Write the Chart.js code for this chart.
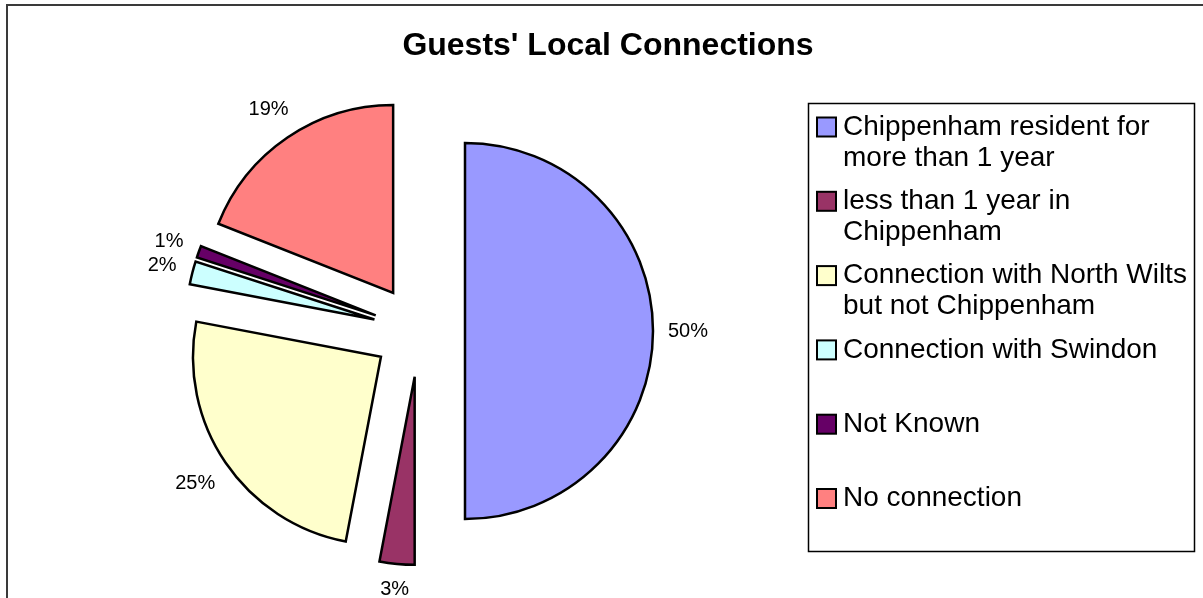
<!DOCTYPE html>
<html>
<head>
<meta charset="utf-8">
<script src="https://cdn.jsdelivr.net/npm/chart.js@4"></script>
<style>
  body { margin: 0; background: #fff; }
  #wrap { width: 1203px; height: 598px; position: relative; }
</style>
</head>
<body>
<div id="wrap"><canvas id="guestChart"></canvas></div>
<script>
// chart data
const chartTitle = "Guests' Local Connections";
const categories = [
  'Chippenham resident for more than 1 year',
  'less than 1 year in Chippenham',
  'Connection with North Wilts but not Chippenham',
  'Connection with Swindon',
  'Not Known',
  'No connection'
];
const percentValues = [50, 3, 25, 2, 1, 19];
const sliceColours = ['#9999FF', '#993366', '#FFFFCC', '#CCFFFF', '#660066', '#FF8080'];

const fontFam = "'Liberation Sans', Arial, sans-serif";
const explode = 46; // how far every slice is pulled out
const pieRadius = 188;

// pulls each slice out along its middle angle (offset option also grows radius, so do it here)
const explodePlugin = {
  id: 'explode',
  afterDatasetUpdate(chart) {
    chart.getDatasetMeta(0).data.forEach(arc => {
      const mid = (arc.startAngle + arc.endAngle) / 2;
      arc.x += Math.cos(mid) * explode;
      arc.y += Math.sin(mid) * explode;
    });
  }
};

// percent labels outside each slice, title, legend box and the outer frame
const decorPlugin = {
  id: 'decor',
  afterDatasetsDraw(chart) {
    const ctx = chart.ctx;
    ctx.save();

    // outer frame (runs off the right and bottom edge)
    ctx.strokeStyle = '#3a3a3a';
    ctx.lineWidth = 2;
    ctx.strokeRect(7, 5, 1300, 700);

    // title
    ctx.fillStyle = '#000';
    ctx.font = 'bold 32px ' + fontFam;
    ctx.textAlign = 'center';
    ctx.textBaseline = 'middle';
    ctx.fillText(chartTitle, 608, 46);

    // slice labels
    ctx.font = '20px ' + fontFam;
    chart.getDatasetMeta(0).data.forEach((arc, i) => {
      const mid = (arc.startAngle + arc.endAngle) / 2;
      const txt = percentValues[i] + '%';
      const w = ctx.measureText(txt).width;
      const cx = Math.cos(mid), sy = Math.sin(mid);
      const dist = arc.outerRadius + 15 + Math.abs(cx) * w / 2 + Math.abs(sy) * 9;
      ctx.fillText(txt, arc.x + cx * dist, arc.y + sy * dist);
    });

    // legend box
    ctx.strokeStyle = '#000';
    ctx.lineWidth = 1.5;
    ctx.strokeRect(808.5, 103.5, 386, 448);
    ctx.font = '28px ' + fontFam;
    ctx.textAlign = 'left';
    categories.forEach((cat, i) => {
      const y = 127 + i * 74.3;
      ctx.fillStyle = sliceColours[i];
      ctx.fillRect(817, y - 9.5, 19, 19);
      ctx.lineWidth = 2;
      ctx.strokeRect(817, y - 9.5, 19, 19);
      // wrap the text to the box
      const words = cat.split(' ');
      let lines = [], line = '';
      words.forEach(wd => {
        const test = line ? line + ' ' + wd : wd;
        if (ctx.measureText(test).width > 350 && line) {
          lines.push(line);
          line = wd;
        } else {
          line = test;
        }
      });
      lines.push(line);
      ctx.fillStyle = '#000';
      lines.forEach((ln, j) => ctx.fillText(ln, 843, y + j * 31));
    });

    ctx.restore();
  }
};

new Chart(document.getElementById('guestChart'), {
  type: 'pie',
  data: {
    labels: categories,
    datasets: [{
      data: percentValues,
      backgroundColor: sliceColours,
      borderColor: '#000',
      borderWidth: 2.5,
      borderJoinStyle: 'miter',
      radius: pieRadius
    }]
  },
  options: {
    responsive: true,
    maintainAspectRatio: false,
    animation: false,
    events: [],
    layout: { padding: { left: 0, right: 365, top: 64, bottom: 0 } },
    plugins: {
      legend: { display: false },
      title: { display: false },
      tooltip: { enabled: false }
    }
  },
  plugins: [explodePlugin, decorPlugin]
});
</script>
</body>
</html>
